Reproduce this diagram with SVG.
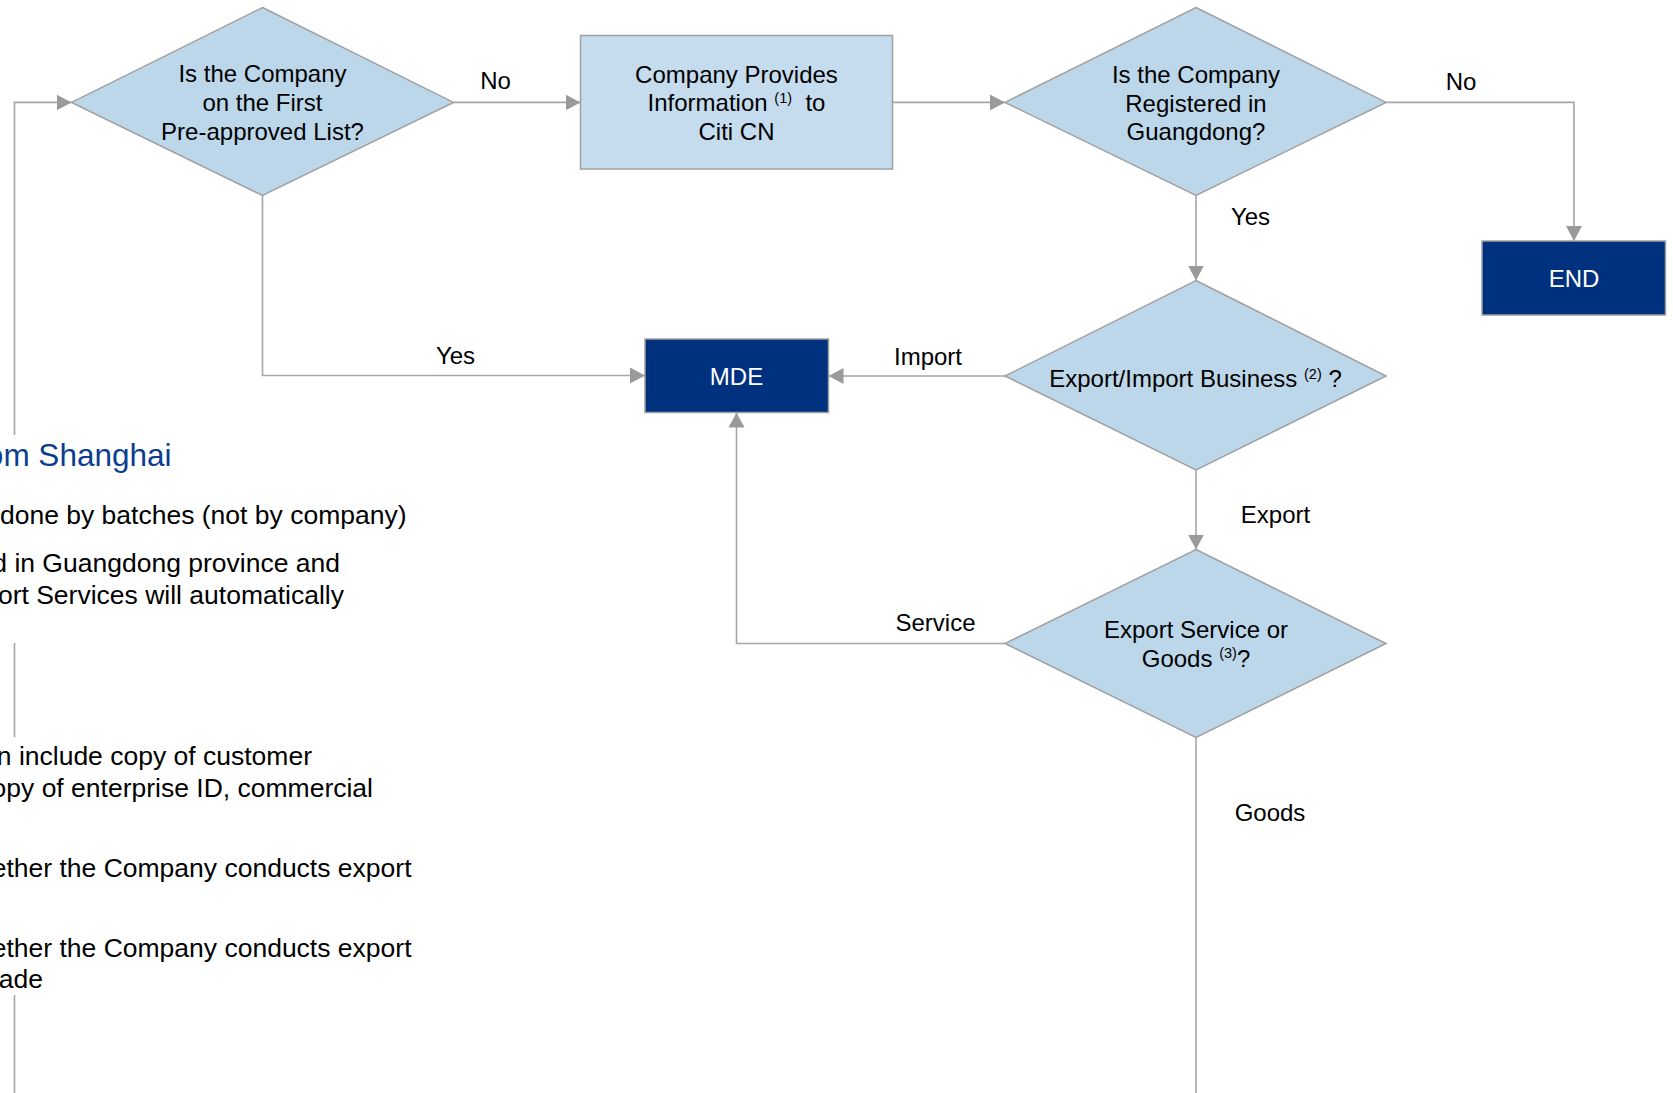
<svg xmlns="http://www.w3.org/2000/svg" width="1673" height="1093" viewBox="0 0 1673 1093">
<style>
text{font-family:"Liberation Sans",Arial,sans-serif;white-space:pre}
.t{font-size:24px;fill:#000;text-anchor:middle}
.w{font-size:24px;fill:#fff;text-anchor:middle}
.sup{font-size:14.5px}
.body{font-size:26.5px;fill:#000;text-anchor:end}
.head{font-size:31.5px;fill:#0b3d91;text-anchor:end}
.dia{fill:#bdd7ea;stroke:#a0a0a0;stroke-width:1.5}
.box{fill:#c5dcee;stroke:#a0a0a0;stroke-width:1.5}
.dark{fill:#00317f;stroke:#a0a0a0;stroke-width:1.5}
.c{fill:none;stroke:#a6a6a6;stroke-width:1.6}
.ca{fill:none;stroke:#a6a6a6;stroke-width:1.6;marker-end:url(#arr)}
</style>
<defs>
<marker id="arr" viewBox="0 0 15 16" refX="15" refY="8" markerWidth="15" markerHeight="16" markerUnits="userSpaceOnUse" orient="auto">
<path d="M0,0 L15,8 L0,16 z" fill="#9a9a9a"/>
</marker>
</defs>
<rect width="1673" height="1093" fill="#fff"/>

<g id="connectors">
<path class="ca" d="M453.5 102.4 H580.5"/>
<path class="ca" d="M892.5 102.4 H1005"/>
<path class="ca" d="M1386 102.4 H1574 V241"/>
<path class="ca" d="M1196 195.5 V280.5"/>
<path class="ca" d="M1005 376 H828.5"/>
<path class="ca" d="M262.5 195.5 V375.5 H645"/>
<path class="ca" d="M1196 470 V549.5"/>
<path class="ca" d="M1005 643.5 H736.5 V412.5"/>
<path class="c" d="M1196 737.5 V1093"/>
<path class="ca" d="M14.5 1093 V995 M14.5 737 V643 M14.5 435 V102.4 H71.5"/>
<text class="t" x="495.5" y="89">No</text>
<text class="t" x="1461" y="90">No</text>
<text class="t" x="1250.5" y="225">Yes</text>
<text class="t" x="455.5" y="363.5">Yes</text>
<text class="t" x="928" y="364.5">Import</text>
<text class="t" x="1275.5" y="522.5">Export</text>
<text class="t" x="935.5" y="631">Service</text>
<text class="t" x="1270" y="821">Goods</text>
</g>

<g id="d1">
<polygon class="dia" points="262.5,7.5 453.5,102.4 262.5,195.5 71.5,102.4"/>
<text class="t" x="262.5" y="82">Is the Company</text>
<text class="t" x="262.5" y="111">on the First</text>
<text class="t" x="262.5" y="140">Pre-approved List?</text>
</g>

<g id="info">
<rect class="box" x="580.5" y="35.5" width="312" height="133.5"/>
<text class="t" x="736.5" y="83">Company Provides</text>
<text class="t" x="736.5" y="111">Information <tspan class="sup" dy="-8.5">(1)</tspan><tspan dy="8.5">  to</tspan></text>
<text class="t" x="736.5" y="139.5">Citi CN</text>
</g>

<g id="d2">
<polygon class="dia" points="1196,7.5 1386,102.4 1196,195.5 1005,102.4"/>
<text class="t" x="1196" y="82.5">Is the Company</text>
<text class="t" x="1196" y="111.5">Registered in</text>
<text class="t" x="1196" y="140">Guangdong?</text>
</g>

<g id="end">
<rect class="dark" x="1482" y="241" width="183.5" height="74"/>
<text class="w" x="1574" y="286.5">END</text>
</g>

<g id="d3">
<polygon class="dia" points="1196,280.5 1386,376 1196,470 1005,376"/>
<text class="t" x="1195.5" y="387">Export/Import Business <tspan class="sup" dy="-8.5">(2)</tspan><tspan dy="8.5"> ?</tspan></text>
</g>

<g id="mde">
<rect class="dark" x="645" y="339" width="183.5" height="73.5"/>
<text class="w" x="736.5" y="385">MDE</text>
</g>

<g id="d4">
<polygon class="dia" points="1196,549.5 1386,643.5 1196,737.5 1005,643.5"/>
<text class="t" x="1196" y="637.5">Export Service or</text>
<text class="t" x="1196" y="666.5">Goods <tspan class="sup" dy="-8.5">(3)</tspan><tspan dy="8.5">?</tspan></text>
</g>

<g id="notes">
<text class="head" x="171.5" y="466">om Shanghai</text>
<text class="body" x="406.5" y="524">done by batches (not by company)</text>
<text class="body" x="340" y="572">d in Guangdong province and</text>
<text class="body" x="344" y="604">ort Services will automatically</text>
<text class="body" x="312" y="765">n include copy of customer</text>
<text class="body" x="373" y="797">opy of enterprise ID, commercial</text>
<text class="body" x="411.5" y="877">ether the Company conducts export</text>
<text class="body" x="411.5" y="957">ether the Company conducts export</text>
<text class="body" x="43" y="988">ade</text>
</g>
</svg>
